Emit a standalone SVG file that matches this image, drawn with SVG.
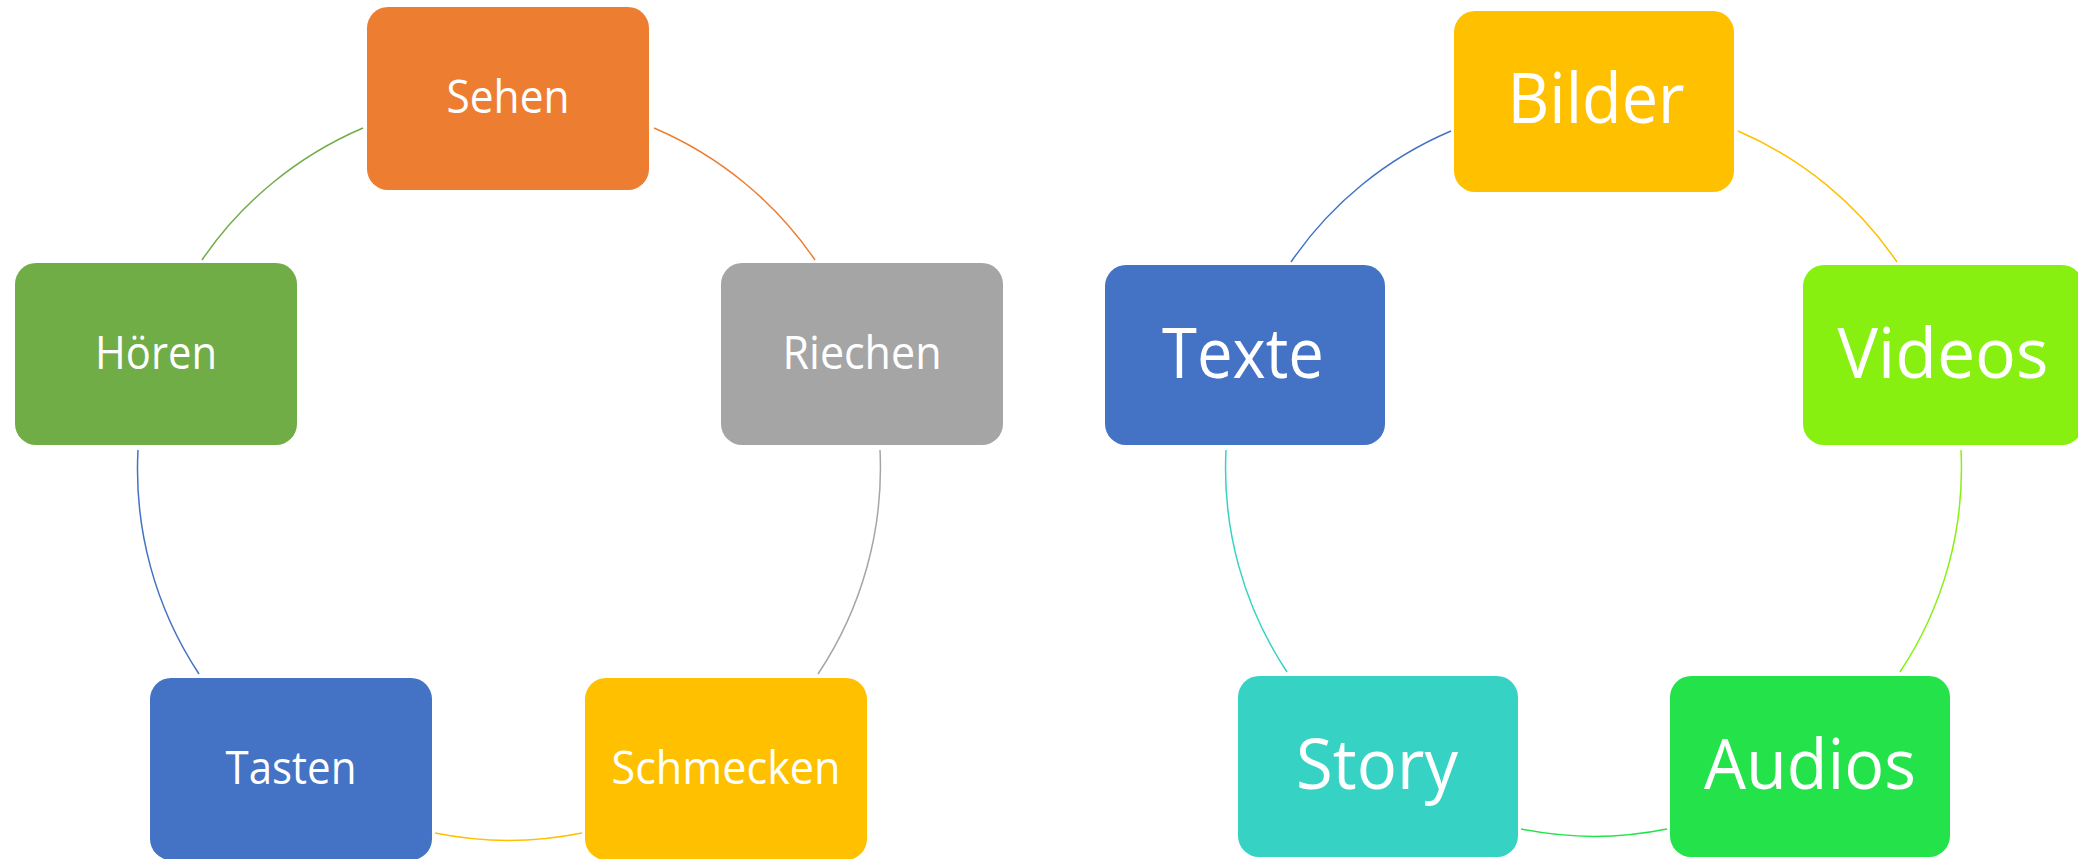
<svg xmlns="http://www.w3.org/2000/svg" width="2078" height="859" viewBox="0 0 2078 859">
<style>
  .box { stroke: none; }
  .lbl { font-family: "Open Sans", "Noto Sans", "Liberation Sans", sans-serif; fill: #FFFFFF; text-anchor: middle; }
  .sm { font-size: 46px; }
  .lg { font-size: 69px; }
  .arc { fill: none; stroke-width: 1.5; }
</style>
<rect width="2078" height="859" fill="#FFFFFF"/>
<g id="connectors">
  <path class="arc" stroke="#ED7D31" d="M654,128 A371,371 0 0 1 815,260"/>
  <path class="arc" stroke="#A5A5A5" d="M880,450 A371,371 0 0 1 818,674"/>
  <path class="arc" stroke="#FFC000" d="M582,833 A371,371 0 0 1 435,833"/>
  <path class="arc" stroke="#4472C4" d="M199,674 A371,371 0 0 1 138,450"/>
  <path class="arc" stroke="#70AD47" d="M202,260 A371,371 0 0 1 363,128"/>
  <path class="arc" stroke="#FFC000" d="M1738,131 A368,368 0 0 1 1897,262"/>
  <path class="arc" stroke="#88F011" d="M1961,450 A368,368 0 0 1 1900,672"/>
  <path class="arc" stroke="#24E34A" d="M1667,829 A368,368 0 0 1 1521,829"/>
  <path class="arc" stroke="#36D3C4" d="M1287,672 A368,368 0 0 1 1226,450"/>
  <path class="arc" stroke="#4472C4" d="M1291,262 A368,368 0 0 1 1451,131"/>
</g>
<g id="sehen">
  <rect class="box" x="367" y="7" width="282" height="183" rx="21" fill="#ED7D31"/>
  <text class="lbl sm" x="508" y="113" textLength="123" lengthAdjust="spacingAndGlyphs">Sehen</text>
</g>
<g id="hoeren">
  <rect class="box" x="15" y="263" width="282" height="182" rx="21" fill="#70AD47"/>
  <text class="lbl sm" x="156" y="369" textLength="122" lengthAdjust="spacingAndGlyphs">Hören</text>
</g>
<g id="riechen">
  <rect class="box" x="721" y="263" width="282" height="182" rx="21" fill="#A5A5A5"/>
  <text class="lbl sm" x="862" y="369" textLength="159" lengthAdjust="spacingAndGlyphs">Riechen</text>
</g>
<g id="tasten">
  <rect class="box" x="150" y="678" width="282" height="182" rx="21" fill="#4472C4"/>
  <text class="lbl sm" x="291" y="784" textLength="131" lengthAdjust="spacingAndGlyphs">Tasten</text>
</g>
<g id="schmecken">
  <rect class="box" x="585" y="678" width="282" height="182" rx="21" fill="#FFC000"/>
  <text class="lbl sm" x="726" y="784" textLength="229" lengthAdjust="spacingAndGlyphs">Schmecken</text>
</g>
<g id="bilder">
  <rect class="box" x="1454" y="11" width="280" height="181" rx="21" fill="#FFC000"/>
  <text class="lbl lg" x="1596" y="123" textLength="177" lengthAdjust="spacingAndGlyphs">Bilder</text>
</g>
<g id="texte">
  <rect class="box" x="1105" y="265" width="280" height="180" rx="21" fill="#4472C4"/>
  <text class="lbl lg" x="1243" y="378" textLength="162" lengthAdjust="spacingAndGlyphs">Texte</text>
</g>
<g id="videos">
  <rect class="box" x="1803" y="265" width="280" height="180" rx="21" fill="#88F011"/>
  <text class="lbl lg" x="1943" y="378" textLength="211" lengthAdjust="spacingAndGlyphs">Videos</text>
</g>
<g id="story">
  <rect class="box" x="1238" y="676" width="280" height="181" rx="21" fill="#36D3C4"/>
  <text class="lbl lg" x="1377" y="789" textLength="162" lengthAdjust="spacingAndGlyphs">Story</text>
</g>
<g id="audios">
  <rect class="box" x="1670" y="676" width="280" height="181" rx="21" fill="#24E34A"/>
  <text class="lbl lg" x="1810" y="789" textLength="212" lengthAdjust="spacingAndGlyphs">Audios</text>
</g>
</svg>
